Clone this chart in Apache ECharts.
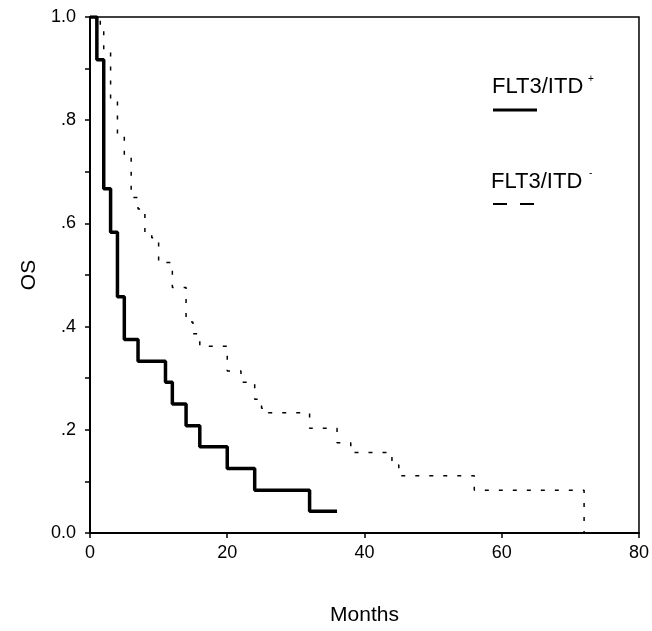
<!DOCTYPE html>
<html>
<head>
<meta charset="utf-8">
<script src="https://cdn.jsdelivr.net/npm/echarts@6/dist/echarts.min.js"></script>
<style>
html,body{margin:0;padding:0;background:#fff;}
#c{width:652px;height:631px;}
</style>
</head>
<body>
<div id="c"></div>
<script>
// FLT3/ITD+ (solid) Kaplan-Meier steps
var posTimes = [0, 1, 2, 3, 4, 5, 7, 11, 12, 14, 16, 20, 24, 32, 36];
var posSurv  = [1, 0.917, 0.667, 0.583, 0.458, 0.375, 0.333, 0.292, 0.25, 0.208, 0.167, 0.125, 0.083, 0.042, 0.042];
// FLT3/ITD- (dotted) Kaplan-Meier steps
var negTimes = [0, 1.5, 2, 3, 4, 5, 6, 7, 8, 9, 10, 12, 14, 15, 16, 20, 22, 24, 25, 26, 32, 36, 38, 44, 45, 56, 72];
var negSurv  = [1, 0.975, 0.933, 0.841, 0.774, 0.729, 0.650, 0.628, 0.582, 0.572, 0.524, 0.476, 0.409, 0.386, 0.362, 0.314, 0.292, 0.259, 0.242, 0.233, 0.203, 0.175, 0.156, 0.132, 0.111, 0.083, 0];
var yTickLabels = ['0.0', '', '.2', '', '.4', '', '.6', '', '.8', '', '1.0'];
var xTickLabels = ['0', '20', '40', '60', '80'];
var legendNames = ['FLT3/ITD', 'FLT3/ITD'];
var legendSups = ['+', '-'];
var xName = 'Months';
var yName = 'OS';

var FONT = '"Liberation Sans", Arial, Helvetica, sans-serif';

function pairs(t, s) {
  var out = [];
  for (var i = 0; i < t.length; i++) out.push([t[i], s[i]]);
  return out;
}

var chart = echarts.init(document.getElementById('c'), null, {renderer: 'canvas'});
chart.setOption({
  animation: false,
  backgroundColor: '#fff',
  grid: {
    left: 90, right: 4, top: 17, bottom: 93,
    show: true, borderColor: '#000', borderWidth: 1.5, backgroundColor: 'transparent'
  },
  xAxis: {
    type: 'value', min: 0, max: 80, interval: 20,
    name: xName, nameLocation: 'middle', nameGap: 72,
    nameTextStyle: {fontFamily: FONT, fontSize: 21, color: '#000'},
    axisLine: {show: true, lineStyle: {color: '#000', width: 2}},
    axisTick: {show: true, length: 5, lineStyle: {color: '#000', width: 1.5}},
    axisLabel: {
      margin: 11, fontFamily: FONT, fontSize: 18, color: '#000',
      formatter: function (v, i) { return xTickLabels[i]; }
    },
    splitLine: {show: false}
  },
  yAxis: {
    type: 'value', min: 0, max: 1, interval: 0.1,
    name: yName, nameLocation: 'middle', nameGap: 48,
    nameTextStyle: {fontFamily: FONT, fontSize: 21, color: '#000'},
    axisLine: {show: true, lineStyle: {color: '#000', width: 2}},
    axisTick: {show: true, length: 5, lineStyle: {color: '#000', width: 1.5}},
    axisLabel: {
      margin: 14, fontFamily: FONT, fontSize: 18, color: '#000',
      formatter: function (v, i) { return yTickLabels[i]; }
    },
    splitLine: {show: false}
  },
  series: [
    {
      type: 'line', step: 'end', showSymbol: false, symbol: 'none',
      data: pairs(negTimes, negSurv),
      lineStyle: {color: '#000', width: 1.5, type: [4, 10]}
    },
    {
      type: 'line', step: 'end', showSymbol: false, symbol: 'none',
      data: pairs(posTimes, posSurv),
      lineStyle: {color: '#000', width: 3.5}
    }
  ],
  graphic: [
    {type: 'text', left: 492, top: 76, style: {text: legendNames[0], font: '22px ' + FONT, fill: '#000'}},
    {type: 'text', left: 588, top: 74, style: {text: legendSups[0], font: '10px ' + FONT, fill: '#000'}},
    {type: 'line', shape: {x1: 493, y1: 110, x2: 537, y2: 110}, style: {stroke: '#000', lineWidth: 3}},
    {type: 'text', left: 491, top: 171, style: {text: legendNames[1], font: '22px ' + FONT, fill: '#000'}},
    {type: 'text', left: 589, top: 168, style: {text: legendSups[1], font: '10px ' + FONT, fill: '#000'}},
    {type: 'line', shape: {x1: 493, y1: 204, x2: 537, y2: 204}, style: {stroke: '#000', lineWidth: 2, lineDash: [14, 13]}}
  ]
});
</script>
</body>
</html>
